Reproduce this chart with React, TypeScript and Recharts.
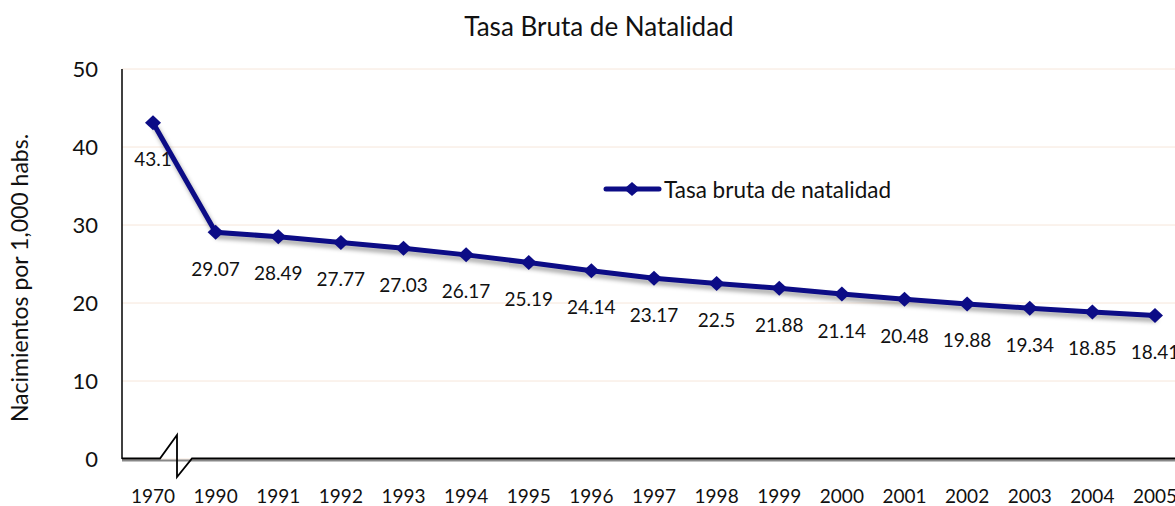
import React from 'react';
import { LineChart, Line, XAxis, YAxis, CartesianGrid, LabelList } from 'recharts';

const years = ['1970', '1990', '1991', '1992', '1993', '1994', '1995', '1996', '1997', '1998', '1999', '2000', '2001', '2002', '2003', '2004', '2005'];
const rates = [43.1, 29.07, 28.49, 27.77, 27.03, 26.17, 25.19, 24.14, 23.17, 22.5, 21.88, 21.14, 20.48, 19.88, 19.34, 18.85, 18.41];
const yTicks = [0, 10, 20, 30, 40, 50];
const seriesName = 'Tasa bruta de natalidad';
const title = 'Tasa Bruta de Natalidad';
const yLabel = 'Nacimientos por 1,000 habs.';

const data = years.map((y, i) => ({ year: y, rate: rates[i] }));

const NAVY = '#0c0c86';
const FONT = 'Lato, "Open Sans", sans-serif';

const Diamond = (props: any) => {
  const { cx, cy } = props;
  if (cx == null || cy == null) return null;
  return <path d={`M${cx - 8},${cy} L${cx},${cy - 7.5} L${cx + 8},${cy} L${cx},${cy + 7.5} Z`} fill={NAVY} />;
};

const DataLabel = (props: any) => {
  const { x, y, value } = props;
  return (
    <text x={x} y={y + 36} textAnchor="middle" dominantBaseline="central" fontSize={19} fill="#111" fontFamily={FONT}>
      {value}
    </text>
  );
};

export default function App() {
  return (
    <div style={{ position: 'absolute', left: 0, top: 0, width: 1175, height: 506, overflow: 'hidden', background: '#fff' }}>
      <style>{`.recharts-line-curve { filter: drop-shadow(2px 4px 2px rgba(0,0,0,0.35)); }`}</style>
      <LineChart width={1200} height={506} data={data} margin={{ top: 69, right: 14, bottom: 0, left: 0 }}>
        <CartesianGrid vertical={false} stroke="#f6e6da" strokeWidth={1} />
        <XAxis
          dataKey="year"
          axisLine={false}
          tickLine={false}
          height={47}
          tickSize={0}
          tickMargin={31}
          interval={0}
          padding={{ left: 31, right: 31 }}
          tick={{ fontSize: 19, fill: '#111', fontFamily: FONT }}
        />
        <YAxis
          domain={[0, 50]}
          ticks={yTicks}
          width={122}
          axisLine={{ stroke: '#000', strokeWidth: 1.5 }}
          tickLine={false}
          tickSize={0}
          tickMargin={24}
          tick={{ fontSize: 22, fill: '#111', fontFamily: FONT }}
        />
        <Line
          type="linear"
          dataKey="rate"
          name={seriesName}
          stroke={NAVY}
          strokeWidth={5}
          dot={<Diamond />}
          activeDot={false}
          isAnimationActive={false}
        >
          <LabelList dataKey="rate" content={<DataLabel />} />
        </Line>
      </LineChart>
      <svg width={1175} height={506} style={{ position: 'absolute', left: 0, top: 0, pointerEvents: 'none' }}>
        <text x={599} y={26} textAnchor="middle" dominantBaseline="central" fontSize={26} fill="#111" fontFamily={FONT}>{title}</text>
        <text x={19} y={278} textAnchor="middle" dominantBaseline="central" fontSize={23} fill="#111" fontFamily={FONT} transform="rotate(-90 19 278)">{yLabel}</text>
        <g>
          <line x1={606} y1={189} x2={659} y2={189} stroke={NAVY} strokeWidth={5} strokeLinecap="round" />
          <path d="M624,189 L632,182 L640,189 L632,196 Z" fill={NAVY} />
          <text x={664} y={189} dominantBaseline="central" fontSize={22.5} fill="#111" fontFamily={FONT}>{seriesName}</text>
        </g>
        <line x1={122} y1={460.5} x2={1175} y2={460.5} stroke="#888" strokeWidth={2} />
        <polyline points="122,458.5 160,458.5 177,435 177,477 192,458.5 1175,458.5" fill="none" stroke="#000" strokeWidth={1.8} />
      </svg>
    </div>
  );
}
